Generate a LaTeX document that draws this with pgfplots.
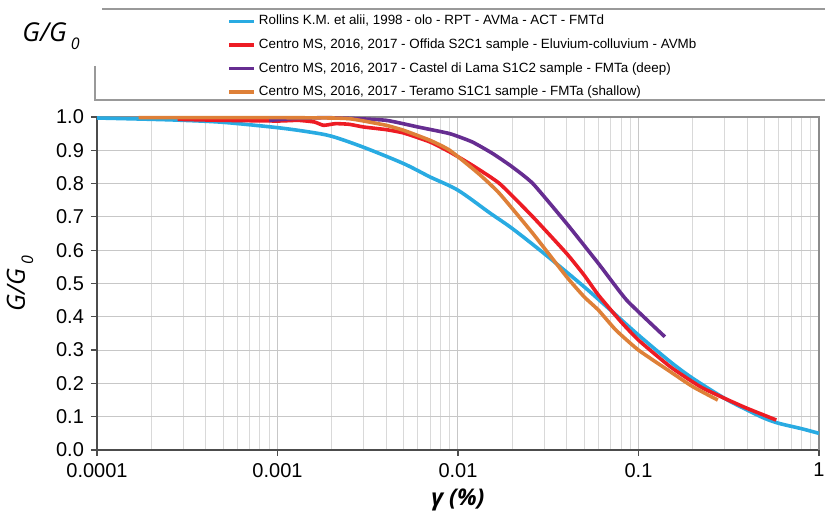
\documentclass[border=0pt]{standalone}
\usepackage{fontspec}
\setmainfont{Liberation Sans}
\newfontfamily\osans{Open Sans}
\usepackage{pgfplots}
\pgfplotsset{compat=1.18}

\definecolor{cRol}{RGB}{41,171,226}
\definecolor{cOff}{RGB}{237,28,36}
\definecolor{cCas}{RGB}{102,45,145}
\definecolor{cTer}{RGB}{222,128,56}

\newcommand{\GG}{G/G\raisebox{-0.6ex}{\fontsize{8}{8}\selectfont\hspace{2pt}0}}

\begin{document}
\begin{tikzpicture}
\path[use as bounding box] (-48.5pt,-34pt) rectangle (364pt,225pt);
\begin{axis}[at={(0,0)}, anchor=south west,
  scale only axis, width=361pt, height=166.5pt,
  xmode=log, xmin=1e-4, xmax=1, ymin=0, ymax=1,
  xtick={1e-4,1e-3,1e-2,1e-1,1},
  xticklabels={0.0001,0.001,0.01,0.1,1},
  ytick={0,0.1,0.2,0.3,0.4,0.5,0.6,0.7,0.8,0.9,1},
  yticklabels={0.0,0.1,0.2,0.3,0.4,0.5,0.6,0.7,0.8,0.9,1.0},
  grid=both,
  major grid style={black!22, line width=0.5pt},
  minor grid style={black!15, line width=0.5pt},
  axis x line*=bottom, axis y line*=left,
  axis line style={black!70, line width=0.6pt},
  tick align=outside, major tick length=3pt, minor tick length=0pt,
  tick style={black!70, line width=0.6pt},
  tick label style={font=\fontsize{10}{12}\selectfont},
  /pgf/number format/assume math mode=true,
  clip=false,
  xlabel={\osans\bfseries\itshape γ (\%)},
  xlabel style={at={(axis description cs:0.5,-0.15)}, anchor=center, font=\fontsize{11.5}{13}\selectfont},
  ylabel={\osans\itshape\GG},
  ylabel style={at={(axis description cs:-0.1066,0.5)}, anchor=center, font=\fontsize{12.5}{14}\selectfont},
  legend cell align=left,
  legend image code/.code={\draw[#1] (0pt,0pt) -- (12.5pt,0pt);},
  legend style={draw=none, fill=none, at={(axis description cs:0.18,1.308)}, anchor=north west,
    inner sep=0pt, row sep=5.3pt, column sep=1.5pt,
    font=\fontsize{6.7}{8}\selectfont,
    nodes={inner sep=0pt, text height=5pt, text depth=1.5pt}},
]
\draw[black!45, line width=1pt] (rel axis cs:0,1) -- (rel axis cs:1,1) -- (rel axis cs:1,0);

\addplot[cRol, line width=1.8pt, line join=round, smooth] coordinates {
(0.0001,0.997) (0.0002,0.993) (0.0003,0.99) (0.0005,0.984) (0.001,0.968)
(0.0015,0.955) (0.002,0.942) (0.003,0.909) (0.005,0.86) (0.007,0.82)
(0.01,0.78) (0.015,0.712) (0.02,0.665) (0.03,0.59) (0.05,0.49)
(0.07,0.42) (0.1,0.345) (0.15,0.265) (0.2,0.215) (0.3,0.155)
(0.4,0.12) (0.5,0.095) (0.6,0.08) (0.8,0.064) (1,0.05)};
\addlegendentry{Rollins K.M. et alii, 1998 - olo - RPT - AVMa - ACT - FMTd}

\addplot[cOff, line width=1.8pt, line join=round, smooth, tension=0.3] coordinates {
(0.00028,0.993) (0.0005,0.99) (0.001,0.988) (0.0013,0.99) (0.0016,0.985)
(0.0018,0.975) (0.0021,0.98) (0.0025,0.978) (0.003,0.97) (0.004,0.962)
(0.005,0.952) (0.007,0.925) (0.009,0.895) (0.012,0.855) (0.017,0.80)
(0.026,0.70) (0.04,0.59) (0.05,0.525) (0.06,0.465) (0.08,0.385)
(0.1,0.33) (0.15,0.25) (0.22,0.19) (0.3,0.155) (0.4,0.125) (0.58,0.09)};
\addlegendentry{Centro MS, 2016, 2017 - Offida S2C1 sample - Eluvium-colluvium - AVMb}

\addplot[cCas, line width=1.8pt, line join=round, smooth, tension=0.3] coordinates {
(0.0009,0.99) (0.0012,0.995) (0.0018,0.998) (0.0025,0.996) (0.004,0.99)
(0.006,0.97) (0.009,0.95) (0.012,0.925) (0.0156,0.89) (0.02,0.85)
(0.026,0.80) (0.04,0.68) (0.06,0.56) (0.086,0.45) (0.14,0.34)};
\addlegendentry{Centro MS, 2016, 2017 - Castel di Lama S1C2 sample - FMTa (deep)}

\addplot[cTer, line width=1.8pt, line join=round, smooth, tension=0.3] coordinates {
(0.00017,0.998) (0.0005,0.998) (0.001,0.998) (0.002,0.997) (0.0025,0.995)
(0.003,0.988) (0.004,0.975) (0.005,0.96) (0.007,0.93) (0.009,0.90)
(0.013,0.83) (0.017,0.77) (0.026,0.65) (0.04,0.52) (0.05,0.46)
(0.06,0.42) (0.075,0.36) (0.1,0.30) (0.155,0.23) (0.2,0.19) (0.275,0.15)};
\addlegendentry{Centro MS, 2016, 2017 - Teramo S1C1 sample - FMTa (shallow)}
\end{axis}

% frame round the legend
\draw[black!40, line width=0.8pt] (2.5pt,220.5pt) -- (366pt,220.5pt);
\draw[black!40, line width=0.8pt] (-1pt,192pt) -- (-1pt,175pt) -- (366pt,175pt);
\node[font=\osans\itshape\fontsize{13}{15}\selectfont] at (-23pt,207pt) {\GG};
\end{tikzpicture}
\end{document}
